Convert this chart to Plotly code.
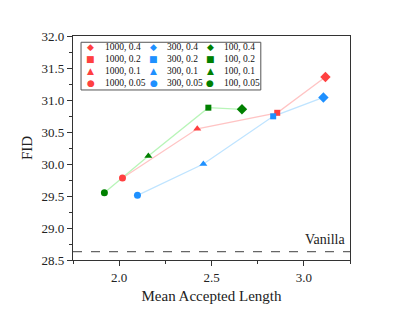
import plotly.graph_objects as go

# ---------------- data ----------------
series_names = ["1000", "300", "100"]
ratios = ["0.05", "0.1", "0.2", "0.4"]

x_1000 = [2.018, 2.423, 2.856, 3.117]
y_1000 = [29.78, 30.55, 30.80, 31.36]

x_300 = [2.099, 2.456, 2.834, 3.106]
y_300 = [29.51, 30.00, 30.745, 31.04]

x_100 = [1.920, 2.158, 2.483, 2.665]
y_100 = [29.55, 30.125, 30.88, 30.855]

vanilla_fid = 28.63

x_ticks = [2.0, 2.5, 3.0]
y_ticks = [28.5, 29.0, 29.5, 30.0, 30.5, 31.0, 31.5, 32.0]

# ---------------- styles ----------------
marker_colors = {"1000": "#FF4040", "300": "#1E90FF", "100": "#008000"}
line_colors = {"1000": "#FFC4C4", "300": "#BFE4FF", "100": "#B8F5B8"}
symbols = {"0.4": "diamond", "0.2": "square", "0.1": "triangle-up", "0.05": "circle"}
glyphs = {"0.4": "◆", "0.2": "■", "0.1": "▲", "0.05": "●"}
sizes = {"0.4": 8, "0.2": 6, "0.1": 7, "0.05": 7}

data = {"1000": (x_1000, y_1000), "300": (x_300, y_300), "100": (x_100, y_100)}

FONT = "Liberation Serif"

fig = go.Figure()

for name in series_names:
    xs, ys = data[name]
    fig.add_trace(go.Scatter(x=xs, y=ys, mode="lines",
                             line=dict(color=line_colors[name], width=1.3),
                             showlegend=False, hoverinfo="skip"))

for name in series_names:
    xs, ys = data[name]
    for xv, yv, r in zip(xs, ys, ratios):
        fig.add_trace(go.Scatter(x=[xv], y=[yv], mode="markers",
                                 marker=dict(color=marker_colors[name], symbol=symbols[r],
                                             size=sizes[r], line=dict(width=0)),
                                 name=f"{name}, {r}", showlegend=False))

# vanilla dashed line
fig.add_shape(type="line", xref="paper", x0=0, x1=1, yref="y", y0=vanilla_fid, y1=vanilla_fid,
              line=dict(color="#666666", width=1.2, dash="dash"))
fig.add_annotation(xref="paper", x=1, xanchor="right", xshift=-3, yref="y", y=vanilla_fid,
                   yanchor="bottom", yshift=3, text="Vanilla", showarrow=False,
                   font=dict(family=FONT, size=14, color="#222222"))

# ---------------- legend (grid of annotations) ----------------
legend_order = ["0.4", "0.2", "0.1", "0.05"]
col_marker_x = [0.0649, 0.2908, 0.4963]
col_text_x = [0.1083, 0.3308, 0.5364]
row_y = [0.9496, 0.896, 0.8424, 0.789]

fig.add_shape(type="rect", xref="paper", yref="paper", x0=0.029, x1=0.678, y0=0.759, y1=0.972,
              line=dict(color="#555555", width=1), fillcolor="white", layer="below")

for ci, name in enumerate(series_names):
    for ri, r in enumerate(legend_order):
        fig.add_annotation(xref="paper", yref="paper", x=col_marker_x[ci], y=row_y[ri],
                           xanchor="center", yanchor="middle", showarrow=False,
                           text=glyphs[r],
                           font=dict(family="DejaVu Sans", size=9, color=marker_colors[name]))
        fig.add_annotation(xref="paper", yref="paper", x=col_text_x[ci], y=row_y[ri],
                           xanchor="left", yanchor="middle", showarrow=False,
                           text=f"{name}, {r}",
                           font=dict(family=FONT, size=9.5, color="#111111"))

axis_common = dict(showline=True, linecolor="#333333", linewidth=1.3, mirror=True,
                   ticks="outside", ticklen=5, tickwidth=1.2, tickcolor="#333333",
                   showgrid=False, zeroline=False, automargin=False,
                   tickfont=dict(family=FONT, size=13, color="#222222"))

fig.update_xaxes(range=[1.75, 3.25], tickvals=x_ticks, ticktext=[f"{v:.1f}" for v in x_ticks],
                 minor=dict(ticks="outside", ticklen=3, tickwidth=1, tickcolor="#333333", dtick=0.25,
                            tick0=1.75, showgrid=False),
                 title=dict(text="Mean Accepted Length", font=dict(family=FONT, size=15, color="#222222"),
                            standoff=9),
                 **axis_common)
fig.update_yaxes(range=[28.5, 32.0], tickvals=y_ticks, ticktext=[f"{v:.1f}" for v in y_ticks],
                 minor=dict(ticks="outside", ticklen=3, tickwidth=1, tickcolor="#333333", dtick=0.25,
                            tick0=28.5, showgrid=False),
                 title=dict(text="FID", font=dict(family=FONT, size=15, color="#222222"), standoff=5),
                 **axis_common)

# page body has an 8px margin, so the figure is 16px smaller and margins shifted by 8px
fig.update_layout(width=391, height=296, margin=dict(l=65, r=49, t=28, b=44),
                  plot_bgcolor="white", paper_bgcolor="white", showlegend=False,
                  font=dict(family=FONT))

fig.write_html("out.html")
